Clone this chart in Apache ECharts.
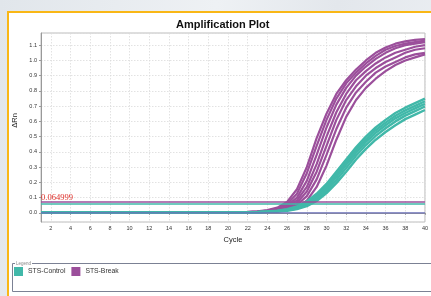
<!DOCTYPE html>
<html>
<head>
<meta charset="utf-8">
<script src="https://cdn.jsdelivr.net/npm/echarts@6/dist/echarts.min.js"></script>
<style>
  html, body { margin: 0; padding: 0; }
  body {
    width: 431px; height: 296px; overflow: hidden; position: relative;
    background: linear-gradient(100deg, #e1e6eb 0%, #eef1f4 45%, #e3e7ec 70%, #eceff3 100%);
  }
  #panel {
    position: absolute; left: 7px; top: 11px; width: 440px; height: 300px;
    background: #fff; border-left: 2px solid #f9b716; border-top: 2px solid #f9b716;
  }
  #chart { position: absolute; left: 0; top: 0; width: 431px; height: 296px; }
</style>
</head>
<body>
<div id="panel"></div>
<div id="chart"></div>
<script>
const cycles = [1, 2, 3, 4, 5, 6, 7, 8, 9, 10, 11, 12, 13, 14, 15, 16, 17, 18, 19, 20,
    21, 22, 23, 24, 25, 26, 27, 28, 29, 30, 31, 32, 33, 34, 35, 36, 37, 38, 39, 40];

// cycles 1-20, shared flat start of every curve
const baseline = [0.003, 0.002, 0.003, 0.002, 0.002, 0.001, 0.002, 0.001, 0.001, 0.002,
    0.001, 0.001, 0.002, 0.001, 0.001, 0.002, 0.001, 0.002, 0.002, 0.002];

// cycles 21-40
const breakTails = [
    [0.004, 0.006, 0.010, 0.018, 0.034, 0.072, 0.155, 0.30, 0.49, 0.65, 0.78, 0.87, 0.94, 1.00, 1.05, 1.085, 1.11, 1.125, 1.135, 1.14],
    [0.004, 0.005, 0.009, 0.015, 0.028, 0.058, 0.125, 0.26, 0.44, 0.61, 0.75, 0.85, 0.92, 0.98, 1.03, 1.07, 1.095, 1.11, 1.12, 1.13],
    [0.003, 0.005, 0.008, 0.013, 0.024, 0.048, 0.10, 0.21, 0.38, 0.56, 0.71, 0.82, 0.90, 0.96, 1.01, 1.05, 1.08, 1.10, 1.11, 1.12],
    [0.003, 0.004, 0.007, 0.011, 0.020, 0.040, 0.082, 0.17, 0.32, 0.50, 0.66, 0.78, 0.87, 0.93, 0.98, 1.02, 1.05, 1.07, 1.09, 1.10],
    [0.003, 0.004, 0.006, 0.010, 0.017, 0.032, 0.066, 0.14, 0.27, 0.44, 0.61, 0.74, 0.83, 0.90, 0.95, 0.99, 1.02, 1.05, 1.07, 1.08],
    [0.002, 0.003, 0.005, 0.008, 0.014, 0.026, 0.052, 0.11, 0.22, 0.38, 0.55, 0.69, 0.79, 0.86, 0.92, 0.96, 0.99, 1.02, 1.04, 1.05],
    [0.002, 0.003, 0.004, 0.006, 0.010, 0.018, 0.036, 0.08, 0.17, 0.31, 0.48, 0.63, 0.74, 0.82, 0.88, 0.93, 0.97, 1.00, 1.02, 1.04]
];

const controlTails = [
    [0.003, 0.004, 0.006, 0.009, 0.014, 0.024, 0.042, 0.075, 0.125, 0.19, 0.27, 0.35, 0.43, 0.50, 0.56, 0.61, 0.655, 0.69, 0.72, 0.75],
    [0.003, 0.004, 0.005, 0.008, 0.012, 0.021, 0.037, 0.067, 0.113, 0.175, 0.252, 0.332, 0.412, 0.482, 0.542, 0.592, 0.637, 0.672, 0.702, 0.732],
    [0.002, 0.003, 0.005, 0.007, 0.011, 0.018, 0.032, 0.058, 0.100, 0.16, 0.235, 0.315, 0.395, 0.465, 0.525, 0.575, 0.62, 0.655, 0.685, 0.715],
    [0.002, 0.003, 0.004, 0.007, 0.010, 0.016, 0.028, 0.050, 0.088, 0.145, 0.215, 0.295, 0.375, 0.445, 0.505, 0.555, 0.60, 0.638, 0.668, 0.698],
    [0.002, 0.003, 0.004, 0.006, 0.009, 0.014, 0.025, 0.044, 0.078, 0.13, 0.195, 0.27, 0.35, 0.42, 0.48, 0.53, 0.575, 0.615, 0.645, 0.675]
];

// a flat well that never comes up
const breakFlat = [0, 0, 0, 0, 0, 0, 0, 0, 0, 0, 0, 0, 0, 0, 0, 0, 0, 0, 0, 0,
    0, 0, 0, 0, 0, 0, 0, 0, 0, 0, 0, 0, 0, 0, 0, 0, 0, 0, 0, 0];

const breakThreshold = 0.065;
const controlThreshold = 0.055;
const thresholdText = '0.064999';

const PURPLE = '#9b4f9b';
const TEAL = '#41b8a9';

let series = [];

breakTails.forEach((t, i) => {
    let s = {
        name: 'STS-Break', type: 'line', data: baseline.concat(t), symbol: 'none',
        lineStyle: { color: PURPLE, width: 2.2 }, itemStyle: { color: PURPLE }
    };
    if (i == 0) {
        s.markLine = {
            silent: true, symbol: 'none',
            lineStyle: { color: PURPLE, width: 1.5, type: 'solid' },
            label: {
                show: true, position: 'insideStartTop', distance: 0,
                formatter: thresholdText, color: '#e0302a',
                fontFamily: 'Liberation Serif', fontSize: 8.5
            },
            data: [{ yAxis: breakThreshold }]
        };
    }
    series.push(s);
});

controlTails.forEach((t, i) => {
    let s = {
        name: 'STS-Control', type: 'line', data: baseline.concat(t), symbol: 'none',
        lineStyle: { color: TEAL, width: 2.4 }, itemStyle: { color: TEAL }
    };
    if (i == 0) {
        s.markLine = {
            silent: true, symbol: 'none',
            lineStyle: { color: TEAL, width: 1.5, type: 'solid' },
            label: { show: false },
            data: [{ yAxis: controlThreshold }]
        };
    }
    series.push(s);
});

series.push({
    name: 'STS-Break', type: 'line', data: breakFlat, symbol: 'none',
    lineStyle: { color: '#6a6fb8', width: 1.2 }, itemStyle: { color: PURPLE }
});

const evenCycle = (idx) => idx % 2 == 1;

let chart = echarts.init(document.getElementById('chart'), null, { renderer: 'canvas' });
chart.setOption({
    animation: false,
    backgroundColor: 'transparent',
    textStyle: { fontFamily: 'Liberation Sans' },
    title: {
        text: 'Amplification Plot',
        left: 176, top: 19, padding: 0,
        textStyle: { fontSize: 11, fontWeight: 'bold', color: '#111', fontFamily: 'Liberation Sans' }
    },
    grid: {
        left: 41, right: 3, top: 33, bottom: 74,
        show: true, borderColor: '#bdbdbd', borderWidth: 1
    },
    legend: {
        data: [
            { name: 'STS-Control', itemStyle: { color: TEAL } },
            { name: 'STS-Break', itemStyle: { color: PURPLE } }
        ],
        left: 14, top: 267, padding: 0,
        icon: 'rect', itemWidth: 9, itemHeight: 9, itemGap: 6,
        selectedMode: false,
        textStyle: { fontSize: 6.8, color: '#333', fontFamily: 'Liberation Sans' }
    },
    xAxis: {
        type: 'category', data: cycles, boundaryGap: false,
        name: 'Cycle', nameLocation: 'middle', nameGap: 10,
        nameTextStyle: { fontSize: 7.5, color: '#222' },
        axisLine: { lineStyle: { color: '#999' } },
        axisTick: { show: true, length: 2, interval: evenCycle, lineStyle: { color: '#999' } },
        axisLabel: { interval: evenCycle, fontSize: 5.5, color: '#333', margin: 3 },
        splitLine: { show: true, interval: evenCycle, lineStyle: { color: '#dadada', type: [1.5, 1.5], width: 0.8 } }
    },
    yAxis: {
        type: 'value', min: -0.06, max: 1.18, splitNumber: 12,
        name: 'ΔRn', nameLocation: 'middle', nameGap: 13,
        nameTextStyle: { fontSize: 7.5, color: '#222', padding: [0, 0, 0, 14] },
        axisLine: { show: true, lineStyle: { color: '#999' } },
        axisTick: { show: true, length: 2, lineStyle: { color: '#999' } },
        axisLabel: {
            fontSize: 5.5, color: '#333', margin: 4,
            showMinLabel: false, showMaxLabel: false,
            formatter: (v) => v.toFixed(1)
        },
        splitLine: { show: true, lineStyle: { color: '#dadada', type: [1.5, 1.5], width: 0.8 } }
    },
    graphic: [
        {
            type: 'rect', z: -1, silent: true,
            shape: { x: 12.5, y: 263.5, width: 430, height: 28 },
            style: { fill: '#fff', stroke: '#7b8194', lineWidth: 1 }
        },
        {
            type: 'text', left: 15, top: 261, silent: true,
            style: {
                text: 'Legend', fontSize: 4.5, fill: '#888', fontFamily: 'Liberation Sans',
                backgroundColor: '#fff', padding: [0, 1]
            }
        }
    ],
    series: series
});
</script>
</body>
</html>
